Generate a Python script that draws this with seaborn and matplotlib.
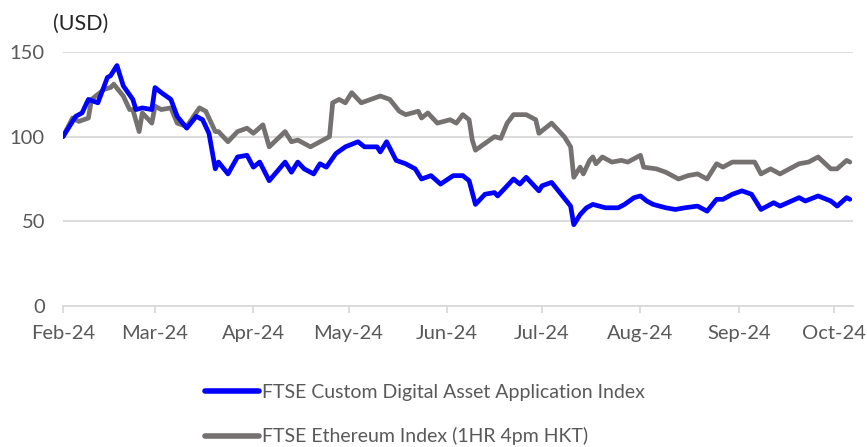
import pandas as pd
import seaborn as sns
import matplotlib.pyplot as plt
import matplotlib.dates as mdates

# values (rebased to 100 on 1 Feb 2024)
digital_dates = ['2024-02-01', '2024-02-05', '2024-02-07', '2024-02-09', '2024-02-12', '2024-02-15',
                 '2024-02-16', '2024-02-18', '2024-02-20', '2024-02-23', '2024-02-24', '2024-02-26',
                 '2024-02-29', '2024-03-01', '2024-03-03', '2024-03-06', '2024-03-08', '2024-03-11',
                 '2024-03-14', '2024-03-16', '2024-03-18', '2024-03-20', '2024-03-21', '2024-03-24',
                 '2024-03-27', '2024-03-30', '2024-04-01', '2024-04-03', '2024-04-06', '2024-04-11',
                 '2024-04-13', '2024-04-15', '2024-04-17', '2024-04-20', '2024-04-22', '2024-04-24',
                 '2024-04-27', '2024-04-30', '2024-05-04', '2024-05-06', '2024-05-10', '2024-05-11',
                 '2024-05-13', '2024-05-16', '2024-05-19', '2024-05-22', '2024-05-24', '2024-05-27',
                 '2024-05-30', '2024-06-03', '2024-06-06', '2024-06-08', '2024-06-10', '2024-06-13',
                 '2024-06-16', '2024-06-17', '2024-06-22', '2024-06-24', '2024-06-26', '2024-06-30',
                 '2024-07-01', '2024-07-04', '2024-07-07', '2024-07-10', '2024-07-11', '2024-07-13',
                 '2024-07-15', '2024-07-17', '2024-07-21', '2024-07-25', '2024-07-27', '2024-07-30',
                 '2024-08-01', '2024-08-03', '2024-08-05', '2024-08-09', '2024-08-12', '2024-08-15',
                 '2024-08-19', '2024-08-22', '2024-08-25', '2024-08-27', '2024-08-30', '2024-09-02',
                 '2024-09-05', '2024-09-08', '2024-09-12', '2024-09-14', '2024-09-20', '2024-09-22',
                 '2024-09-26', '2024-09-30', '2024-10-02', '2024-10-05', '2024-10-06']
digital_values = [100, 112, 114, 122, 120, 135,
                  136, 142, 130, 122, 116, 117,
                  116, 129, 126, 122, 112, 105,
                  112, 110, 102, 81, 85, 78,
                  88, 89, 82, 85, 74, 85,
                  79, 85, 81, 78, 84, 82,
                  90, 94, 97, 94, 94, 91,
                  97, 86, 84, 81, 75, 77,
                  72, 77, 77, 74, 60, 66,
                  67, 65, 75, 72, 76, 68,
                  71, 73, 66, 59, 48, 54,
                  58, 60, 58, 58, 60, 64,
                  65, 62, 60, 58, 57, 58,
                  59, 56, 63, 63, 66, 68,
                  66, 57, 61, 59, 64, 62,
                  65, 62, 59, 64, 63]

eth_dates = ['2024-02-01', '2024-02-04', '2024-02-06', '2024-02-09', '2024-02-10', '2024-02-14',
             '2024-02-16', '2024-02-17', '2024-02-20', '2024-02-22', '2024-02-23', '2024-02-25',
             '2024-02-26', '2024-02-29', '2024-03-01', '2024-03-03', '2024-03-06', '2024-03-08',
             '2024-03-11', '2024-03-15', '2024-03-17', '2024-03-20', '2024-03-21', '2024-03-24',
             '2024-03-27', '2024-03-30', '2024-04-01', '2024-04-04', '2024-04-06', '2024-04-11',
             '2024-04-13', '2024-04-15', '2024-04-19', '2024-04-22', '2024-04-25', '2024-04-26',
             '2024-04-28', '2024-04-30', '2024-05-02', '2024-05-05', '2024-05-08', '2024-05-11',
             '2024-05-14', '2024-05-17', '2024-05-19', '2024-05-23', '2024-05-24', '2024-05-26',
             '2024-05-29', '2024-06-02', '2024-06-04', '2024-06-06', '2024-06-08', '2024-06-09',
             '2024-06-10', '2024-06-13', '2024-06-16', '2024-06-18', '2024-06-20', '2024-06-22',
             '2024-06-26', '2024-06-29', '2024-06-30', '2024-07-02', '2024-07-04', '2024-07-05',
             '2024-07-08', '2024-07-10', '2024-07-11', '2024-07-13', '2024-07-14', '2024-07-16',
             '2024-07-17', '2024-07-18', '2024-07-20', '2024-07-23', '2024-07-26', '2024-07-28',
             '2024-08-01', '2024-08-02', '2024-08-06', '2024-08-09', '2024-08-13', '2024-08-16',
             '2024-08-19', '2024-08-22', '2024-08-25', '2024-08-27', '2024-08-30', '2024-09-02',
             '2024-09-06', '2024-09-08', '2024-09-11', '2024-09-14', '2024-09-20', '2024-09-23',
             '2024-09-26', '2024-09-30', '2024-10-02', '2024-10-05', '2024-10-06']
eth_values = [100, 111, 109, 111, 122, 128,
              129, 131, 124, 116, 116, 103,
              114, 108, 118, 116, 117, 108,
              106, 117, 115, 103, 103, 97,
              103, 105, 102, 107, 94, 103,
              97, 98, 94, 97, 100, 120,
              122, 120, 126, 120, 122, 124,
              122, 115, 113, 115, 111, 114,
              108, 110, 108, 113, 110, 98,
              92, 96, 100, 99, 108, 113,
              113, 110, 102, 105, 108, 106,
              100, 94, 76, 82, 78, 86,
              88, 84, 88, 85, 86, 85,
              89, 82, 81, 79, 75, 77,
              78, 75, 84, 82, 85, 85,
              85, 78, 81, 78, 84, 85,
              88, 81, 81, 86, 85]

series_names = ['FTSE Custom Digital Asset Application Index',
                'FTSE Ethereum Index (1HR 4pm HKT)']
series_colors = ['#0000FF', '#767171']

df = pd.concat([
    pd.DataFrame({'date': pd.to_datetime(digital_dates), 'value': digital_values,
                  'series': series_names[0]}),
    pd.DataFrame({'date': pd.to_datetime(eth_dates), 'value': eth_values,
                  'series': series_names[1]}),
])

sns.set_style('white')
plt.rcParams['font.family'] = ['Lato', 'DejaVu Sans']

fig = plt.figure(figsize=(8.67, 4.47), dpi=100)
ax = fig.add_axes([63 / 867, 1 - 306 / 447, 790 / 867, 254 / 447])

# grey drawn first so blue sits on top where they overlap
sns.lineplot(data=df, x='date', y='value', hue='series', hue_order=series_names[::-1],
             palette=series_colors[::-1], linewidth=3.4, ax=ax, legend=False)

ax.set_ylim(0, 150)
ax.set_yticks([0, 50, 100, 150])
ax.set_xlim(pd.Timestamp('2024-02-01'), pd.Timestamp('2024-10-07'))
ax.xaxis.set_major_locator(mdates.MonthLocator())
ax.xaxis.set_major_formatter(mdates.DateFormatter('%b-%y'))

ax.grid(axis='y', color='#d9d9d9', linewidth=1.3)
ax.set_axisbelow(True)
for side in ['left', 'right', 'top']:
    ax.spines[side].set_visible(False)
ax.spines['bottom'].set_color('#d9d9d9')
ax.spines['bottom'].set_linewidth(1.3)
ax.tick_params(axis='x', length=5, width=1.3, color='#d9d9d9', labelsize=14.5,
               labelcolor='#595959', pad=9, bottom=True)
ax.tick_params(axis='y', length=0, labelsize=14.5, labelcolor='#595959', pad=13)
ax.set_xlabel('')
ax.set_ylabel('')

fig.text(53 / 867, 1 - 24 / 447, '(USD)', fontsize=15.5, color='#262626',
         ha='left', va='center')

handles = [plt.Line2D([], [], color=c, linewidth=4, solid_capstyle='round')
           for c in series_colors]
fig.legend(handles, series_names, loc='upper left', bbox_to_anchor=(205 / 867, 1 - 384 / 447),
           frameon=False, fontsize=14, handlelength=2.8, handletextpad=0.15,
           labelspacing=1.35, borderpad=0, borderaxespad=0, labelcolor='#595959')

fig.savefig('out.png', dpi=100)
